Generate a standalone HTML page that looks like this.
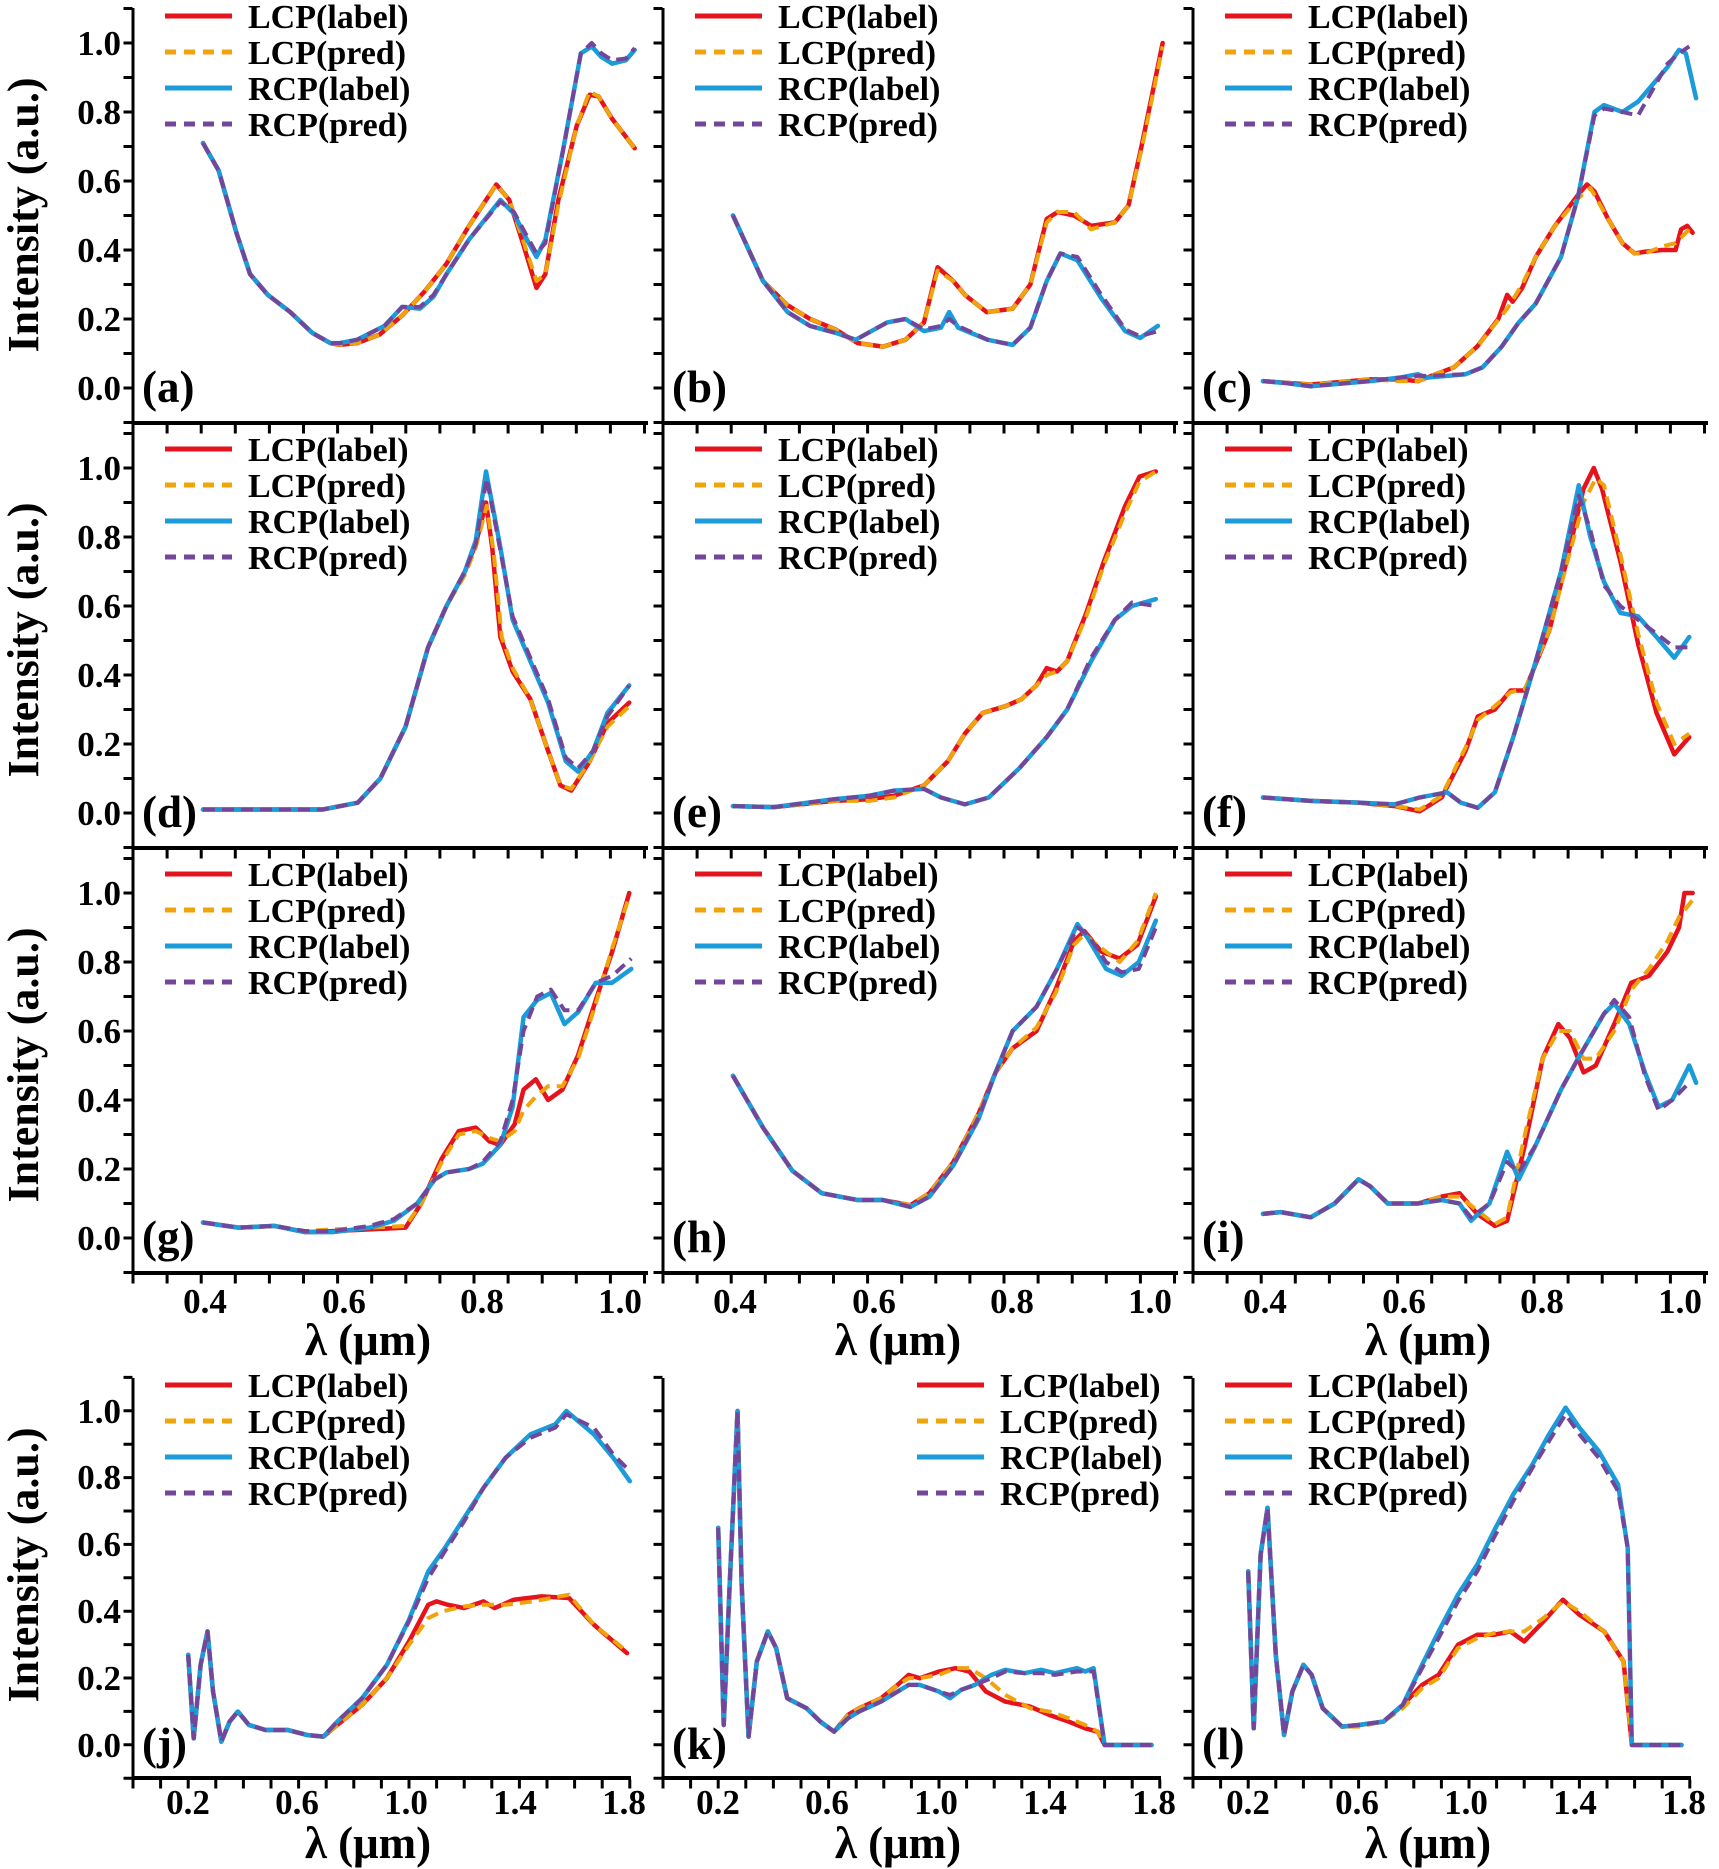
<!DOCTYPE html>
<html><head><meta charset="utf-8"><style>
html,body{margin:0;padding:0;background:#fff;}
svg{display:block;}
text{font-family:"Liberation Serif",serif;font-weight:bold;fill:#000;}
.ax{stroke:#000;stroke-width:3;fill:none;}
.tk{stroke:#000;fill:none;}
.s{fill:none;vector-effect:non-scaling-stroke;stroke-linejoin:round;stroke-linecap:round;}
.r{stroke:#e5131c;stroke-width:4.5;}
.o{stroke:#f0a30a;stroke-width:4;stroke-dasharray:12 7;stroke-linecap:butt;}
.b{stroke:#1b9bd9;stroke-width:4.5;}
.p{stroke:#74469a;stroke-width:4;stroke-dasharray:12 7;stroke-linecap:butt;}
.lg{font-size:34px;}
.tl{font-size:35px;}
.pl{font-size:45px;}
.xl{font-size:45px;}
</style></head><body>
<svg width="1719" height="1869" viewBox="0 0 1719 1869" xmlns="http://www.w3.org/2000/svg">
<defs>
<g id="ax1">
 <line class="ax" x1="0" y1="-380" x2="0" y2="36"/>
 <line class="ax" x1="-1.5" y1="35" x2="515" y2="35" style="stroke-width:4"/>
 <line class="tk" x1="-5" y1="36" x2="-5" y2="-381" stroke-width="9" stroke-dasharray="3 31.5"/>
 <line class="tk" x1="-1.5" y1="41" x2="516" y2="41" stroke-width="9" stroke-dasharray="3 31.1"/>
</g>
<g id="ax4">
 <line class="ax" x1="0" y1="-367" x2="0" y2="34"/>
 <line class="ax" x1="-1.5" y1="33" x2="498" y2="33" style="stroke-width:4"/>
 <line class="tk" x1="-5" y1="34.7" x2="-5" y2="-370" stroke-width="9" stroke-dasharray="3 30.4"/>
 <line class="tk" x1="-1.5" y1="39" x2="499" y2="39" stroke-width="9" stroke-dasharray="3 24.6"/>
</g>
<g id="leg">
 <line x1="0" y1="0" x2="67" y2="0" stroke="#e5131c" stroke-width="5"/>
 <line x1="0" y1="36" x2="67" y2="36" stroke="#f0a30a" stroke-width="5" stroke-dasharray="11 8"/>
 <line x1="0" y1="72" x2="67" y2="72" stroke="#1b9bd9" stroke-width="5"/>
 <line x1="0" y1="108" x2="67" y2="108" stroke="#74469a" stroke-width="5" stroke-dasharray="11 8"/>
 <text class="lg" x="83" y="12">LCP(label)</text>
 <text class="lg" x="83" y="48">LCP(pred)</text>
 <text class="lg" x="83" y="84">RCP(label)</text>
 <text class="lg" x="83" y="120">RCP(pred)</text>
</g>
</defs>

<use href="#ax1" x="133" y="388"/><use href="#ax1" x="663" y="388"/><use href="#ax1" x="1193" y="388"/>
<use href="#ax1" x="133" y="813"/><use href="#ax1" x="663" y="813"/><use href="#ax1" x="1193" y="813"/>
<use href="#ax1" x="133" y="1238"/><use href="#ax1" x="663" y="1238"/><use href="#ax1" x="1193" y="1238"/>
<use href="#ax4" x="133" y="1745"/><use href="#ax4" x="663" y="1745"/><use href="#ax4" x="1193" y="1745"/>

<g class="tl" text-anchor="end">
<text x="121" y="400">0.0</text><text x="121" y="331">0.2</text><text x="121" y="262">0.4</text><text x="121" y="193">0.6</text><text x="121" y="124">0.8</text><text x="121" y="55">1.0</text>
<text x="121" y="825">0.0</text><text x="121" y="756">0.2</text><text x="121" y="687">0.4</text><text x="121" y="618">0.6</text><text x="121" y="549">0.8</text><text x="121" y="480">1.0</text>
<text x="121" y="1250">0.0</text><text x="121" y="1181">0.2</text><text x="121" y="1112">0.4</text><text x="121" y="1043">0.6</text><text x="121" y="974">0.8</text><text x="121" y="905">1.0</text>
<text x="121" y="1757">0.0</text><text x="121" y="1690">0.2</text><text x="121" y="1623">0.4</text><text x="121" y="1556">0.6</text><text x="121" y="1489">0.8</text><text x="121" y="1423">1.0</text>
</g>
<g>
<text transform="translate(38,215) rotate(-90)" text-anchor="middle" style="font-size:44px">Intensity (a.u.)</text>
<text transform="translate(38,640) rotate(-90)" text-anchor="middle" style="font-size:44px">Intensity (a.u.)</text>
<text transform="translate(38,1065) rotate(-90)" text-anchor="middle" style="font-size:44px">Intensity (a.u.)</text>
<text transform="translate(38,1565) rotate(-90)" text-anchor="middle" style="font-size:44px">Intensity (a.u.)</text>
</g>
<g class="tl" text-anchor="middle">
<text x="205" y="1313">0.4</text><text x="344" y="1313">0.6</text><text x="482" y="1313">0.8</text><text x="620" y="1313">1.0</text>
<text x="735" y="1313">0.4</text><text x="874" y="1313">0.6</text><text x="1012" y="1313">0.8</text><text x="1150" y="1313">1.0</text>
<text x="1265" y="1313">0.4</text><text x="1404" y="1313">0.6</text><text x="1542" y="1313">0.8</text><text x="1680" y="1313">1.0</text>
<text x="188" y="1814">0.2</text><text x="297" y="1814">0.6</text><text x="406" y="1814">1.0</text><text x="515" y="1814">1.4</text><text x="624" y="1814">1.8</text>
<text x="718" y="1814">0.2</text><text x="827" y="1814">0.6</text><text x="936" y="1814">1.0</text><text x="1045" y="1814">1.4</text><text x="1154" y="1814">1.8</text>
<text x="1248" y="1814">0.2</text><text x="1357" y="1814">0.6</text><text x="1466" y="1814">1.0</text><text x="1575" y="1814">1.4</text><text x="1684" y="1814">1.8</text>
</g>
<g class="xl" text-anchor="middle">
<text x="368" y="1355">λ (μm)</text><text x="898" y="1355">λ (μm)</text><text x="1428" y="1355">λ (μm)</text>
<text x="368" y="1858">λ (μm)</text><text x="898" y="1858">λ (μm)</text><text x="1428" y="1858">λ (μm)</text>
</g>
<g class="pl">
<text x="142" y="402">(a)</text><text x="672" y="402">(b)</text><text x="1202" y="402">(c)</text>
<text x="142" y="827">(d)</text><text x="672" y="827">(e)</text><text x="1202" y="827">(f)</text>
<text x="142" y="1252">(g)</text><text x="672" y="1252">(h)</text><text x="1202" y="1252">(i)</text>
<text x="142" y="1759">(j)</text><text x="672" y="1759">(k)</text><text x="1202" y="1759">(l)</text>
</g>
<use href="#leg" x="165" y="16"/><use href="#leg" x="695" y="16"/><use href="#leg" x="1225" y="16"/>
<use href="#leg" x="165" y="449"/><use href="#leg" x="695" y="449"/><use href="#leg" x="1225" y="449"/>
<use href="#leg" x="165" y="874"/><use href="#leg" x="695" y="874"/><use href="#leg" x="1225" y="874"/>
<use href="#leg" x="165" y="1385"/><use href="#leg" x="917" y="1385"/><use href="#leg" x="1225" y="1385"/>

<g transform="translate(-69.8,388) scale(682,-345)">
<polyline class="s r" points="0.4,0.71 0.423,0.63 0.449,0.45 0.469,0.33 0.495,0.27 0.528,0.22 0.56,0.16 0.587,0.13 0.6,0.125 0.626,0.13 0.659,0.155 0.692,0.21 0.725,0.28 0.757,0.36 0.79,0.47 0.83,0.59 0.849,0.545 0.869,0.42 0.889,0.29 0.902,0.33 0.921,0.545 0.948,0.76 0.967,0.85 0.98,0.845 1.0,0.78 1.033,0.695"/>
<polyline class="s o" points="0.4,0.71 0.423,0.63 0.449,0.45 0.469,0.33 0.495,0.27 0.528,0.22 0.56,0.16 0.587,0.13 0.6,0.125 0.626,0.13 0.659,0.155 0.692,0.21 0.725,0.28 0.757,0.36 0.79,0.47 0.83,0.59 0.849,0.545 0.869,0.43 0.889,0.31 0.902,0.33 0.921,0.53 0.948,0.76 0.967,0.86 0.98,0.845 1.0,0.78 1.033,0.695"/>
<polyline class="s b" points="0.4,0.71 0.423,0.63 0.449,0.45 0.469,0.33 0.495,0.27 0.528,0.22 0.56,0.16 0.587,0.13 0.6,0.13 0.626,0.14 0.666,0.18 0.692,0.235 0.718,0.23 0.738,0.265 0.757,0.33 0.79,0.43 0.836,0.545 0.856,0.505 0.875,0.43 0.889,0.38 0.902,0.43 0.928,0.69 0.954,0.97 0.97,0.99 0.984,0.96 1.0,0.94 1.02,0.95 1.033,0.98"/>
<polyline class="s p" points="0.4,0.71 0.423,0.63 0.449,0.45 0.469,0.33 0.495,0.27 0.528,0.22 0.56,0.16 0.587,0.13 0.6,0.13 0.626,0.14 0.666,0.18 0.692,0.235 0.718,0.235 0.738,0.27 0.757,0.33 0.79,0.43 0.836,0.54 0.856,0.51 0.875,0.44 0.889,0.39 0.902,0.42 0.928,0.69 0.954,0.97 0.97,1.0 0.984,0.97 1.0,0.95 1.02,0.955 1.033,0.985"/>
</g>
<g transform="translate(460.2,388) scale(682,-345)">
<polyline class="s r" points="0.4,0.5 0.444,0.31 0.48,0.24 0.513,0.2 0.55,0.17 0.583,0.13 0.62,0.12 0.653,0.14 0.68,0.19 0.7,0.35 0.723,0.31 0.74,0.27 0.772,0.22 0.81,0.23 0.836,0.3 0.86,0.49 0.876,0.51 0.9,0.5 0.925,0.47 0.96,0.48 0.98,0.53 1.0,0.71 1.03,1.0"/>
<polyline class="s o" points="0.4,0.5 0.444,0.31 0.48,0.24 0.513,0.2 0.55,0.17 0.583,0.13 0.62,0.12 0.653,0.14 0.68,0.19 0.7,0.34 0.723,0.31 0.74,0.27 0.772,0.22 0.81,0.23 0.836,0.3 0.86,0.48 0.876,0.51 0.9,0.51 0.925,0.46 0.96,0.48 0.98,0.53 1.0,0.7 1.03,0.99"/>
<polyline class="s b" points="0.4,0.5 0.444,0.31 0.48,0.22 0.513,0.18 0.55,0.16 0.58,0.14 0.626,0.19 0.653,0.2 0.68,0.165 0.705,0.175 0.717,0.22 0.73,0.175 0.773,0.14 0.81,0.125 0.836,0.175 0.86,0.31 0.88,0.39 0.905,0.37 0.94,0.26 0.975,0.165 0.997,0.145 1.023,0.18"/>
<polyline class="s p" points="0.4,0.5 0.444,0.31 0.48,0.22 0.513,0.18 0.55,0.16 0.58,0.14 0.626,0.19 0.653,0.2 0.68,0.17 0.705,0.18 0.717,0.2 0.73,0.18 0.773,0.14 0.81,0.125 0.836,0.175 0.86,0.31 0.88,0.39 0.905,0.38 0.94,0.27 0.975,0.17 0.997,0.15 1.023,0.165"/>
</g>
<g transform="translate(990.2,388) scale(682,-345)">
<polyline class="s r" points="0.4,0.02 0.47,0.01 0.557,0.025 0.6,0.025 0.627,0.02 0.68,0.06 0.714,0.12 0.745,0.2 0.758,0.27 0.766,0.25 0.78,0.29 0.8,0.38 0.828,0.47 0.862,0.56 0.875,0.59 0.886,0.57 0.906,0.49 0.927,0.42 0.945,0.39 0.96,0.395 0.985,0.4 1.005,0.4 1.013,0.46 1.022,0.47 1.03,0.45"/>
<polyline class="s o" points="0.4,0.02 0.47,0.01 0.557,0.025 0.6,0.02 0.627,0.02 0.68,0.06 0.714,0.12 0.758,0.23 0.78,0.3 0.8,0.38 0.828,0.47 0.862,0.55 0.88,0.58 0.906,0.49 0.927,0.42 0.945,0.39 0.96,0.39 0.985,0.41 1.005,0.42 1.025,0.46"/>
<polyline class="s b" points="0.4,0.02 0.43,0.015 0.47,0.005 0.557,0.02 0.6,0.03 0.627,0.04 0.64,0.03 0.697,0.04 0.722,0.06 0.75,0.12 0.775,0.19 0.8,0.245 0.837,0.38 0.862,0.555 0.886,0.8 0.9,0.82 0.927,0.8 0.95,0.83 0.993,0.93 1.01,0.98 1.02,0.97 1.035,0.84"/>
<polyline class="s p" points="0.4,0.02 0.43,0.015 0.47,0.005 0.557,0.02 0.6,0.03 0.627,0.035 0.64,0.035 0.697,0.04 0.722,0.06 0.75,0.12 0.775,0.19 0.8,0.245 0.837,0.38 0.862,0.555 0.886,0.79 0.9,0.81 0.927,0.8 0.95,0.79 0.993,0.94 1.01,0.97 1.025,0.99"/>
</g>
<g transform="translate(-69.8,813) scale(682,-345)">
<polyline class="s r" points="0.4,0.01 0.5,0.01 0.575,0.01 0.627,0.03 0.66,0.1 0.697,0.25 0.73,0.48 0.757,0.6 0.784,0.7 0.8,0.78 0.815,0.9 0.824,0.77 0.836,0.51 0.854,0.41 0.88,0.33 0.906,0.18 0.924,0.08 0.94,0.065 0.967,0.15 0.993,0.26 1.025,0.32"/>
<polyline class="s o" points="0.4,0.01 0.5,0.01 0.575,0.01 0.627,0.03 0.66,0.1 0.697,0.25 0.73,0.48 0.757,0.6 0.784,0.69 0.8,0.77 0.816,0.89 0.826,0.76 0.838,0.51 0.854,0.42 0.88,0.33 0.906,0.18 0.924,0.08 0.94,0.07 0.967,0.15 0.993,0.25 1.025,0.31"/>
<polyline class="s b" points="0.4,0.01 0.5,0.01 0.575,0.01 0.627,0.03 0.66,0.1 0.697,0.25 0.73,0.48 0.757,0.6 0.784,0.7 0.8,0.79 0.815,0.99 0.836,0.77 0.854,0.56 0.88,0.44 0.906,0.32 0.932,0.15 0.95,0.12 0.972,0.18 0.993,0.29 1.025,0.37"/>
<polyline class="s p" points="0.4,0.01 0.5,0.01 0.575,0.01 0.627,0.03 0.66,0.1 0.697,0.25 0.73,0.48 0.757,0.6 0.784,0.7 0.8,0.78 0.816,0.97 0.836,0.76 0.854,0.57 0.88,0.45 0.906,0.33 0.932,0.16 0.95,0.13 0.972,0.18 0.993,0.28 1.025,0.37"/>
</g>
<g transform="translate(460.2,813) scale(682,-345)">
<polyline class="s r" points="0.4,0.02 0.46,0.017 0.548,0.035 0.6,0.04 0.636,0.05 0.68,0.08 0.715,0.15 0.74,0.23 0.766,0.29 0.8,0.31 0.823,0.33 0.845,0.37 0.86,0.42 0.875,0.41 0.89,0.44 0.918,0.58 0.944,0.73 0.975,0.89 0.996,0.975 1.02,0.99"/>
<polyline class="s o" points="0.4,0.02 0.46,0.017 0.548,0.035 0.6,0.035 0.636,0.045 0.68,0.08 0.715,0.15 0.74,0.23 0.766,0.29 0.8,0.31 0.823,0.33 0.845,0.37 0.86,0.4 0.875,0.41 0.89,0.44 0.918,0.57 0.944,0.72 0.975,0.87 0.996,0.96 1.02,0.99"/>
<polyline class="s b" points="0.4,0.02 0.46,0.017 0.548,0.04 0.6,0.05 0.636,0.065 0.68,0.07 0.705,0.045 0.74,0.025 0.775,0.045 0.82,0.13 0.86,0.22 0.89,0.3 0.925,0.44 0.96,0.56 0.985,0.6 1.02,0.62"/>
<polyline class="s p" points="0.4,0.02 0.46,0.017 0.548,0.04 0.6,0.05 0.636,0.065 0.68,0.07 0.705,0.045 0.74,0.025 0.775,0.045 0.82,0.13 0.86,0.22 0.89,0.3 0.925,0.45 0.96,0.56 0.985,0.61 1.02,0.6"/>
</g>
<g transform="translate(990.2,813) scale(682,-345)">
<polyline class="s r" points="0.4,0.045 0.47,0.035 0.54,0.03 0.593,0.02 0.63,0.005 0.662,0.045 0.697,0.18 0.715,0.28 0.74,0.3 0.763,0.355 0.784,0.355 0.82,0.53 0.845,0.73 0.87,0.94 0.885,1.0 0.897,0.94 0.924,0.73 0.95,0.49 0.977,0.29 1.003,0.17 1.025,0.22"/>
<polyline class="s o" points="0.4,0.045 0.47,0.035 0.54,0.03 0.593,0.02 0.63,0.01 0.662,0.05 0.697,0.19 0.715,0.27 0.74,0.31 0.763,0.35 0.784,0.36 0.82,0.53 0.845,0.72 0.87,0.9 0.888,0.97 0.9,0.95 0.924,0.75 0.95,0.52 0.977,0.32 1.003,0.2 1.025,0.23"/>
<polyline class="s b" points="0.4,0.045 0.47,0.035 0.54,0.03 0.593,0.025 0.63,0.045 0.67,0.06 0.69,0.03 0.715,0.015 0.74,0.06 0.767,0.22 0.8,0.44 0.837,0.7 0.863,0.95 0.88,0.8 0.9,0.67 0.924,0.58 0.95,0.57 0.977,0.51 1.003,0.45 1.025,0.51"/>
<polyline class="s p" points="0.4,0.045 0.47,0.035 0.54,0.03 0.593,0.025 0.63,0.045 0.67,0.06 0.69,0.03 0.715,0.015 0.74,0.06 0.767,0.22 0.8,0.44 0.837,0.7 0.863,0.92 0.88,0.82 0.9,0.66 0.924,0.6 0.95,0.56 0.977,0.52 1.003,0.48 1.025,0.48"/>
</g>
<g transform="translate(-69.8,1238) scale(682,-345)">
<polyline class="s r" points="0.4,0.045 0.452,0.03 0.505,0.035 0.55,0.017 0.59,0.02 0.644,0.025 0.697,0.03 0.72,0.1 0.75,0.23 0.775,0.31 0.8,0.32 0.82,0.28 0.836,0.27 0.857,0.33 0.87,0.43 0.888,0.46 0.906,0.4 0.927,0.43 0.95,0.53 0.976,0.69 1.0,0.83 1.025,1.0"/>
<polyline class="s o" points="0.4,0.045 0.452,0.03 0.505,0.035 0.55,0.02 0.59,0.025 0.644,0.03 0.697,0.035 0.72,0.1 0.75,0.22 0.775,0.3 0.8,0.31 0.82,0.29 0.836,0.28 0.857,0.31 0.87,0.37 0.888,0.41 0.906,0.44 0.927,0.44 0.95,0.52 0.976,0.68 1.0,0.84 1.025,0.99"/>
<polyline class="s b" points="0.4,0.045 0.452,0.03 0.505,0.035 0.55,0.017 0.59,0.017 0.644,0.03 0.68,0.05 0.714,0.1 0.74,0.17 0.757,0.19 0.79,0.2 0.81,0.215 0.836,0.27 0.854,0.38 0.87,0.64 0.89,0.69 0.91,0.71 0.93,0.62 0.95,0.655 0.976,0.74 1.0,0.74 1.028,0.78"/>
<polyline class="s p" points="0.4,0.045 0.452,0.03 0.505,0.035 0.55,0.02 0.59,0.02 0.644,0.035 0.68,0.055 0.714,0.1 0.74,0.17 0.757,0.19 0.79,0.2 0.81,0.22 0.836,0.28 0.854,0.4 0.87,0.6 0.89,0.7 0.91,0.72 0.93,0.66 0.95,0.66 0.976,0.74 1.0,0.76 1.028,0.81"/>
</g>
<g transform="translate(460.2,1238) scale(682,-345)">
<polyline class="s r" points="0.4,0.47 0.444,0.32 0.487,0.195 0.53,0.13 0.583,0.11 0.62,0.11 0.66,0.095 0.688,0.13 0.723,0.22 0.76,0.36 0.785,0.48 0.81,0.55 0.845,0.6 0.873,0.72 0.9,0.86 0.915,0.89 0.94,0.83 0.967,0.81 0.993,0.85 1.02,0.99"/>
<polyline class="s o" points="0.4,0.47 0.444,0.32 0.487,0.195 0.53,0.13 0.583,0.11 0.62,0.11 0.66,0.095 0.688,0.13 0.723,0.22 0.76,0.36 0.785,0.48 0.81,0.55 0.845,0.61 0.873,0.71 0.9,0.85 0.915,0.88 0.94,0.84 0.967,0.8 0.993,0.86 1.02,1.0"/>
<polyline class="s b" points="0.4,0.47 0.444,0.32 0.487,0.195 0.53,0.13 0.583,0.11 0.62,0.11 0.66,0.09 0.688,0.12 0.723,0.21 0.76,0.345 0.785,0.48 0.81,0.6 0.845,0.67 0.875,0.78 0.905,0.91 0.92,0.87 0.947,0.78 0.97,0.76 0.995,0.8 1.02,0.92"/>
<polyline class="s p" points="0.4,0.47 0.444,0.32 0.487,0.195 0.53,0.13 0.583,0.11 0.62,0.11 0.66,0.09 0.688,0.12 0.723,0.21 0.76,0.35 0.785,0.48 0.81,0.6 0.845,0.67 0.875,0.78 0.905,0.9 0.92,0.88 0.947,0.8 0.97,0.77 0.995,0.78 1.02,0.9"/>
</g>
<g transform="translate(990.2,1238) scale(682,-345)">
<polyline class="s r" points="0.4,0.07 0.426,0.075 0.47,0.06 0.505,0.1 0.54,0.17 0.557,0.15 0.583,0.1 0.627,0.1 0.662,0.12 0.688,0.13 0.714,0.07 0.74,0.035 0.758,0.05 0.784,0.27 0.81,0.52 0.833,0.62 0.85,0.58 0.87,0.48 0.888,0.5 0.915,0.62 0.94,0.74 0.966,0.76 0.993,0.83 1.01,0.9 1.018,1.0 1.03,1.0"/>
<polyline class="s o" points="0.4,0.07 0.426,0.075 0.47,0.06 0.505,0.1 0.54,0.17 0.557,0.15 0.583,0.1 0.627,0.1 0.662,0.12 0.688,0.12 0.714,0.08 0.74,0.04 0.758,0.06 0.784,0.3 0.81,0.52 0.833,0.6 0.85,0.6 0.87,0.52 0.888,0.52 0.915,0.6 0.94,0.72 0.966,0.78 0.993,0.86 1.01,0.93 1.03,0.98"/>
<polyline class="s b" points="0.4,0.07 0.426,0.075 0.47,0.06 0.505,0.1 0.54,0.17 0.557,0.15 0.583,0.1 0.627,0.1 0.662,0.11 0.688,0.1 0.705,0.05 0.732,0.1 0.758,0.25 0.775,0.17 0.8,0.27 0.837,0.43 0.862,0.52 0.9,0.65 0.915,0.68 0.937,0.62 0.96,0.48 0.98,0.38 1.0,0.4 1.025,0.5 1.035,0.45"/>
<polyline class="s p" points="0.4,0.07 0.426,0.075 0.47,0.06 0.505,0.1 0.54,0.17 0.557,0.15 0.583,0.1 0.627,0.1 0.662,0.11 0.688,0.1 0.705,0.06 0.732,0.1 0.758,0.22 0.775,0.19 0.8,0.27 0.837,0.43 0.862,0.52 0.9,0.65 0.915,0.69 0.937,0.64 0.96,0.47 0.98,0.37 1.0,0.4 1.025,0.45"/>
</g>
<g transform="translate(133,1745) scale(276,-334)">
<polyline class="s r" points="0.2,0.27 0.22,0.02 0.245,0.24 0.27,0.34 0.29,0.16 0.32,0.01 0.35,0.07 0.38,0.1 0.42,0.06 0.48,0.045 0.56,0.045 0.63,0.03 0.69,0.025 0.74,0.06 0.83,0.12 0.92,0.2 1.0,0.31 1.07,0.42 1.1,0.43 1.14,0.42 1.2,0.41 1.27,0.43 1.31,0.41 1.38,0.435 1.48,0.445 1.58,0.44 1.67,0.36 1.79,0.275"/>
<polyline class="s o" points="0.2,0.27 0.22,0.02 0.245,0.24 0.27,0.34 0.29,0.16 0.32,0.01 0.35,0.07 0.38,0.1 0.42,0.06 0.48,0.045 0.56,0.045 0.63,0.03 0.69,0.025 0.74,0.06 0.83,0.12 0.92,0.2 1.0,0.3 1.07,0.38 1.12,0.4 1.2,0.415 1.27,0.42 1.35,0.42 1.45,0.43 1.58,0.45 1.67,0.36 1.79,0.28"/>
<polyline class="s b" points="0.2,0.27 0.22,0.02 0.245,0.24 0.27,0.34 0.29,0.16 0.32,0.01 0.35,0.07 0.38,0.1 0.42,0.06 0.48,0.045 0.56,0.045 0.63,0.03 0.69,0.025 0.74,0.07 0.83,0.14 0.92,0.24 1.0,0.375 1.07,0.52 1.13,0.59 1.2,0.68 1.27,0.77 1.35,0.86 1.44,0.93 1.53,0.96 1.57,1.0 1.67,0.93 1.74,0.86 1.8,0.79"/>
<polyline class="s p" points="0.2,0.27 0.22,0.02 0.245,0.24 0.27,0.34 0.29,0.16 0.32,0.01 0.35,0.07 0.38,0.1 0.42,0.06 0.48,0.045 0.56,0.045 0.63,0.03 0.69,0.025 0.74,0.07 0.83,0.14 0.92,0.24 1.0,0.37 1.07,0.5 1.13,0.58 1.2,0.67 1.27,0.77 1.35,0.86 1.44,0.92 1.53,0.95 1.57,0.99 1.67,0.95 1.74,0.87 1.8,0.82"/>
</g>
<g transform="translate(663,1745) scale(276,-334)">
<polyline class="s r" points="0.2,0.65 0.22,0.06 0.24,0.45 0.27,1.0 0.285,0.48 0.31,0.025 0.34,0.25 0.38,0.34 0.41,0.29 0.45,0.14 0.52,0.11 0.57,0.07 0.62,0.04 0.67,0.09 0.71,0.11 0.79,0.14 0.85,0.18 0.89,0.21 0.93,0.2 1.0,0.22 1.06,0.23 1.11,0.22 1.17,0.16 1.24,0.13 1.33,0.115 1.4,0.09 1.47,0.07 1.53,0.05 1.575,0.04 1.6,0.0 1.77,0.0"/>
<polyline class="s o" points="0.2,0.65 0.22,0.06 0.24,0.45 0.27,1.0 0.285,0.48 0.31,0.025 0.34,0.25 0.38,0.34 0.41,0.29 0.45,0.14 0.52,0.11 0.57,0.07 0.62,0.04 0.67,0.09 0.71,0.11 0.79,0.14 0.85,0.18 0.89,0.2 0.93,0.2 1.0,0.21 1.06,0.23 1.11,0.23 1.17,0.2 1.24,0.15 1.33,0.11 1.4,0.1 1.47,0.08 1.53,0.06 1.575,0.04 1.6,0.0 1.77,0.0"/>
<polyline class="s b" points="0.2,0.65 0.22,0.06 0.24,0.45 0.27,1.0 0.285,0.48 0.31,0.025 0.34,0.25 0.38,0.34 0.41,0.29 0.45,0.14 0.52,0.11 0.57,0.07 0.62,0.04 0.67,0.08 0.71,0.1 0.79,0.13 0.85,0.16 0.89,0.18 0.93,0.18 1.0,0.16 1.04,0.14 1.08,0.165 1.13,0.18 1.19,0.21 1.24,0.225 1.31,0.215 1.37,0.225 1.42,0.215 1.5,0.23 1.53,0.22 1.56,0.23 1.6,0.0 1.77,0.0"/>
<polyline class="s p" points="0.2,0.65 0.22,0.06 0.24,0.45 0.27,1.0 0.285,0.48 0.31,0.025 0.34,0.25 0.38,0.34 0.41,0.29 0.45,0.14 0.52,0.11 0.57,0.07 0.62,0.04 0.67,0.08 0.71,0.1 0.79,0.13 0.85,0.16 0.89,0.18 0.93,0.18 1.0,0.16 1.04,0.15 1.08,0.165 1.13,0.18 1.19,0.2 1.24,0.22 1.31,0.215 1.37,0.215 1.42,0.21 1.5,0.22 1.53,0.22 1.56,0.22 1.6,0.0 1.77,0.0"/>
</g>
<g transform="translate(1193,1745) scale(276,-334)">
<polyline class="s r" points="0.2,0.52 0.22,0.05 0.245,0.57 0.27,0.71 0.3,0.27 0.33,0.03 0.36,0.16 0.4,0.24 0.43,0.21 0.47,0.11 0.54,0.055 0.6,0.06 0.69,0.07 0.76,0.12 0.83,0.18 0.89,0.21 0.96,0.3 1.03,0.33 1.09,0.33 1.15,0.34 1.2,0.31 1.27,0.37 1.34,0.435 1.4,0.39 1.49,0.34 1.56,0.25 1.59,0.0 1.77,0.0"/>
<polyline class="s o" points="0.2,0.52 0.22,0.05 0.245,0.57 0.27,0.71 0.3,0.27 0.33,0.03 0.36,0.16 0.4,0.24 0.43,0.21 0.47,0.11 0.54,0.055 0.6,0.055 0.69,0.07 0.76,0.11 0.83,0.17 0.89,0.2 0.96,0.29 1.03,0.32 1.09,0.335 1.15,0.34 1.2,0.34 1.27,0.38 1.34,0.43 1.4,0.4 1.49,0.34 1.56,0.25 1.59,0.0 1.77,0.0"/>
<polyline class="s b" points="0.2,0.52 0.22,0.05 0.245,0.57 0.27,0.71 0.3,0.27 0.33,0.03 0.36,0.16 0.4,0.24 0.43,0.21 0.47,0.11 0.54,0.055 0.6,0.06 0.69,0.07 0.76,0.12 0.83,0.24 0.89,0.34 0.96,0.45 1.03,0.54 1.09,0.64 1.16,0.75 1.23,0.84 1.29,0.93 1.35,1.01 1.4,0.95 1.47,0.88 1.54,0.78 1.575,0.59 1.59,0.0 1.77,0.0"/>
<polyline class="s p" points="0.2,0.52 0.22,0.05 0.245,0.57 0.27,0.71 0.3,0.27 0.33,0.03 0.36,0.16 0.4,0.24 0.43,0.21 0.47,0.11 0.54,0.055 0.6,0.06 0.69,0.07 0.76,0.12 0.83,0.23 0.89,0.32 0.96,0.43 1.03,0.52 1.09,0.62 1.16,0.73 1.23,0.83 1.29,0.91 1.35,0.99 1.4,0.93 1.47,0.86 1.54,0.76 1.575,0.59 1.59,0.0 1.77,0.0"/>
</g>
</svg>
</body></html>
